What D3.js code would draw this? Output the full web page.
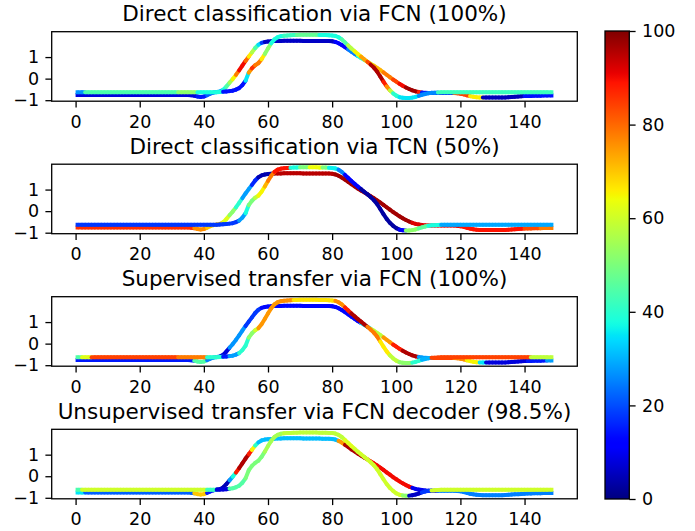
<!DOCTYPE html>
<html>
<head>
<meta charset="utf-8">
<script src="https://cdn.jsdelivr.net/npm/d3@7"></script>
<style>
  html, body { margin: 0; padding: 0; background: #ffffff; }
  svg { display: block; }
  text { font-family: "DejaVu Sans", sans-serif; fill: #000; }
</style>
</head>
<body>
<svg id="chart" width="695" height="531"></svg>
<script>
// ---------------- DATA ----------------
const timeSteps = d3.range(150);

// series that starts low, rises first, plateaus lower, descends gradually
const seriesA = [
  -0.76,-0.76,-0.76,-0.76,-0.76,-0.76,-0.76,-0.76,-0.76,-0.76,
  -0.76,-0.76,-0.76,-0.76,-0.76,-0.76,-0.76,-0.76,-0.76,-0.76,
  -0.76,-0.76,-0.76,-0.76,-0.76,-0.76,-0.76,-0.76,-0.76,-0.76,
  -0.76,-0.76,-0.76,-0.76,-0.76,-0.76,
  -0.77,-0.79,-0.83,-0.85,-0.83,-0.77,-0.70,-0.65,-0.62,-0.60,
  -0.52,-0.37,-0.19,-0.02,0.17,0.38,0.60,0.82,1.02,1.22,1.42,1.57,1.66,
  1.70,1.72,1.73,1.74,
  1.75,1.75,1.76,1.76,1.76,1.76,1.76,1.76,1.75,1.75,1.75,1.75,1.75,1.75,1.74,1.74,1.74,
  1.73,1.70,1.64,1.56,1.46,1.36,1.25,1.15,1.05,0.96,
  0.87,0.78,0.69,0.60,0.50,0.40,0.29,0.18,0.07,-0.04,
  -0.14,-0.24,-0.33,-0.41,-0.48,-0.54,-0.59,-0.62,-0.64,-0.66,
  -0.67,-0.67,-0.67,-0.67,-0.67,-0.67,-0.67,-0.67,-0.67,-0.68,
  -0.70,-0.73,-0.77,-0.81,-0.84,-0.86,-0.87,-0.88,-0.88,-0.88,
  -0.88,-0.88,-0.88,-0.88,-0.87,-0.86,-0.85,-0.84,-0.83,-0.82,
  -0.81,-0.80,-0.80,-0.79,-0.79,-0.79,-0.78,-0.78,-0.78,-0.78
];

// series that starts higher, rises later, plateaus higher, descends steeply
const seriesB = [
  -0.63,-0.63,-0.63,-0.63,-0.63,-0.63,-0.63,-0.63,-0.63,-0.63,
  -0.63,-0.63,-0.63,-0.63,-0.63,-0.63,-0.63,-0.63,-0.63,-0.63,
  -0.63,-0.63,-0.63,-0.63,-0.63,-0.63,-0.63,-0.63,-0.63,-0.63,
  -0.63,-0.63,-0.63,-0.63,-0.63,-0.63,-0.63,-0.63,-0.63,-0.63,
  -0.63,-0.63,-0.63,-0.63,-0.63,
  -0.62,-0.61,-0.60,-0.58,
  -0.56,-0.51,-0.44,-0.30,-0.10,0.28,0.48,0.62,0.72,0.90,1.14,1.40,1.64,1.82,1.92,1.97,1.99,2.00,
  2.01,2.02,2.02,2.03,2.03,2.03,2.03,2.03,2.03,2.02,2.02,2.02,2.01,2.00,
  1.98,1.92,1.82,1.68,1.54,1.40,1.27,1.14,1.02,0.90,0.78,0.65,0.51,0.33,0.10,-0.14,
  -0.36,-0.54,-0.68,-0.79,-0.86,-0.89,-0.90,-0.90,-0.88,-0.85,-0.80,-0.75,-0.71,-0.68,
  -0.66,-0.65,-0.64,
  -0.63,-0.63,-0.63,-0.63,-0.63,-0.63,-0.63,-0.63,-0.63,-0.63,
  -0.63,-0.63,-0.63,-0.63,-0.63,-0.63,-0.63,-0.63,-0.63,-0.63,
  -0.63,-0.63,-0.63,-0.63,-0.63,-0.63,-0.63,-0.63,-0.63,-0.63,
  -0.63,-0.63,-0.63,-0.63,-0.63,-0.63
];

const panelTitles = [
  "Direct classification via FCN (100%)",
  "Direct classification via TCN (50%)",
  "Supervised transfer via FCN (100%)",
  "Unsupervised transfer via FCN decoder (98.5%)"
];

// colour values (0-100) along each series: [fromIndex, toIndex, value]
const colorA_directFCN = [[0,37,8],[38,40,15],[41,43,22],[44,45,30],[46,46,38],[47,47,45],[48,48,55],[49,49,65],[50,50,78],[51,52,90],[53,53,80],[54,54,66],[55,55,56],[56,56,44],[57,57,34],[58,58,18],[59,80,6],[81,84,12],[85,87,25],[88,89,38],[90,90,50],[91,92,62],[93,95,72],[96,98,78],[99,100,84],[101,102,90],[103,106,97],[107,107,88],[108,117,15],[118,122,84],[123,126,66],[127,139,5],[140,149,14]];
const colorB_directFCN = [[0,2,27],[3,31,44],[32,37,52],[38,45,38],[46,52,14],[53,53,35],[54,54,75],[55,55,86],[56,57,78],[58,58,66],[59,60,52],[61,64,38],[65,68,42],[69,75,47],[76,82,38],[83,84,45],[85,86,57],[87,88,65],[89,90,74],[91,91,84],[92,95,96],[96,96,88],[97,97,76],[98,98,58],[99,100,40],[101,106,35],[107,112,26],[113,149,42]];

const colorA_directTCN = [[0,36,86],[37,40,76],[41,45,70],[46,47,62],[48,49,52],[50,51,40],[52,54,28],[55,56,16],[57,61,4],[62,80,95],[81,104,97],[105,119,92],[120,139,89],[140,144,83],[145,149,78]];
const colorB_directTCN = [[0,50,18],[51,52,28],[53,53,38],[54,55,50],[56,56,58],[57,58,65],[59,59,72],[60,61,78],[62,66,89],[67,69,38],[70,72,50],[73,76,64],[77,78,50],[79,81,36],[82,83,25],[84,88,12],[89,100,3],[101,102,12],[103,106,52],[107,109,46],[110,113,38],[114,149,29]];

const colorA_supervised = [[0,36,15],[37,40,45],[41,44,25],[45,47,8],[48,52,27],[53,57,18],[58,88,13],[89,91,35],[92,95,58],[96,98,75],[99,101,88],[102,106,96],[107,110,28],[111,117,84],[118,121,76],[122,125,65],[126,127,35],[128,140,8],[141,146,15],[147,149,28]];
const colorB_supervised = [[0,1,45],[2,4,62],[5,31,84],[32,40,78],[41,45,40],[46,47,15],[48,50,28],[51,53,40],[54,55,52],[56,56,60],[57,63,75],[64,67,76],[68,80,67],[81,83,76],[84,85,88],[86,90,96],[91,94,78],[95,97,66],[98,100,58],[101,104,52],[105,107,40],[108,110,30],[111,141,84],[142,149,58]];

const colorA_unsupervised = [[0,2,35],[3,36,22],[37,40,70],[41,43,15],[44,47,5],[48,48,28],[49,49,38],[50,50,88],[51,53,96],[54,54,88],[55,55,65],[56,56,40],[57,81,31],[82,83,75],[84,90,96],[91,104,90],[105,112,10],[113,149,25]];
const colorB_unsupervised = [[0,1,44],[2,40,60],[41,43,42],[44,47,8],[48,52,45],[53,58,50],[59,64,55],[65,83,58],[84,86,62],[87,101,60],[102,103,52],[104,107,6],[108,110,18],[111,149,60]];

const xTickValues = [0, 20, 40, 60, 80, 100, 120, 140];
const yTickValues = [-1, 0, 1];
const yTickLabels = ["\u22121", "0", "1"];
const colorTickValues = [0, 20, 40, 60, 80, 100];
const colorDomain = [0, 100];

// ---------------- STYLE / LAYOUT ----------------
const axLeft = 51.7, axRight = 577.3, axH = 69.5;
const axTops = [31.7, 164.2, 296.7, 429.3];
const cbLeft = 605, cbRight = 629.3, cbTop = 31, cbBottom = 499;
const tickFont = 17.5, titleFont = 21.5, lineW = 4, tickLen = 6.3, spineW = 1.3;

// jet colormap (matplotlib segment data)
const jetR = d3.scaleLinear().domain([0, 0.35, 0.66, 0.89, 1]).range([0, 0, 1, 1, 0.5]).clamp(true);
const jetG = d3.scaleLinear().domain([0, 0.125, 0.375, 0.64, 0.91, 1]).range([0, 0, 1, 1, 0, 0]).clamp(true);
const jetB = d3.scaleLinear().domain([0, 0.11, 0.34, 0.65, 1]).range([0.5, 1, 1, 0, 0]).clamp(true);
const norm = d3.scaleLinear().domain(colorDomain).range([0, 1]).clamp(true);
const jet = v => { const t = norm(v); return d3.rgb(255 * jetR(t), 255 * jetG(t), 255 * jetB(t)).formatHex(); };

function expandRuns(runs) {
  const out = new Array(timeSteps.length).fill(0);
  runs.forEach(([a, b, v]) => { for (let i = a; i <= b; i++) out[i] = v; });
  return out;
}

const panelColors = [
  [colorA_directFCN, colorB_directFCN],
  [colorA_directTCN, colorB_directTCN],
  [colorA_supervised, colorB_supervised],
  [colorA_unsupervised, colorB_unsupervised]
];

const svg = d3.select("#chart");
svg.append("rect").attr("width", 695).attr("height", 531).attr("fill", "#fff");

const x = d3.scaleLinear()
  .domain([0 - 0.05 * 149, 149 + 0.05 * 149])
  .range([axLeft, axRight]);

const allY = seriesA.concat(seriesB);
const yMin = d3.min(allY), yMax = d3.max(allY), yPad = 0.05 * (yMax - yMin);

panelTitles.forEach((title, k) => {
  const top = axTops[k];
  const y = d3.scaleLinear().domain([yMin - yPad, yMax + yPad]).range([top + axH, top]);
  const g = svg.append("g");

  const clipId = "clip" + k;
  svg.append("clipPath").attr("id", clipId)
    .append("rect").attr("x", axLeft).attr("y", top).attr("width", axRight - axLeft).attr("height", axH);

  const lines = g.append("g").attr("clip-path", `url(#${clipId})`);
  [[seriesA, panelColors[k][0]], [seriesB, panelColors[k][1]]].forEach(([vals, runs]) => {
    const cols = expandRuns(runs);
    const segs = d3.range(vals.length - 1).map(i => ({ i, x1: x(timeSteps[i]), y1: y(vals[i]), x2: x(timeSteps[i + 1]), y2: y(vals[i + 1]), c: jet(cols[i]) }));
    lines.selectAll(null).data(segs).enter().append("line")
      .attr("x1", d => d.x1).attr("y1", d => d.y1)
      .attr("x2", d => d.x2).attr("y2", d => d.y2)
      .attr("stroke", d => d.c)
      .attr("stroke-width", lineW)
      .attr("stroke-linecap", d => (d.i === 0 || d.i === vals.length - 2) ? "butt" : "round");
  });

  // frame
  g.append("rect").attr("x", axLeft).attr("y", top).attr("width", axRight - axLeft).attr("height", axH)
    .attr("fill", "none").attr("stroke", "#000").attr("stroke-width", spineW);

  // x axis
  const xa = g.append("g").attr("transform", `translate(0,${top + axH})`)
    .call(d3.axisBottom(x).tickValues(xTickValues).tickSize(tickLen).tickPadding(7.9).tickFormat(d3.format("d")));
  // y axis
  const ya = g.append("g").attr("transform", `translate(${axLeft},0)`)
    .call(d3.axisLeft(y).tickValues(yTickValues).tickSize(tickLen).tickPadding(6.3).tickFormat((d, i) => yTickLabels[i]));
  [xa, ya].forEach(a => {
    a.select(".domain").remove();
    a.selectAll(".tick line").attr("stroke", "#000").attr("stroke-width", spineW);
    a.selectAll(".tick text").attr("font-size", tickFont).attr("font-family", "DejaVu Sans").attr("fill", "#000");
  });

  g.append("text").attr("x", (axLeft + axRight) / 2).attr("y", top - 10.5)
    .attr("text-anchor", "middle").attr("font-size", titleFont).text(title);
});

// colorbar
const defs = svg.append("defs");
const grad = defs.append("linearGradient").attr("id", "jetGrad")
  .attr("x1", 0).attr("y1", 1).attr("x2", 0).attr("y2", 0);
d3.range(0, 101).forEach(v => grad.append("stop").attr("offset", v / 100).attr("stop-color", jet(v)));

svg.append("rect").attr("x", cbLeft).attr("y", cbTop).attr("width", cbRight - cbLeft).attr("height", cbBottom - cbTop)
  .attr("fill", "url(#jetGrad)").attr("stroke", "#000").attr("stroke-width", spineW);

const cScale = d3.scaleLinear().domain(colorDomain).range([cbBottom, cbTop]);
const ca = svg.append("g").attr("transform", `translate(${cbRight},0)`)
  .call(d3.axisRight(cScale).tickValues(colorTickValues).tickSize(tickLen).tickPadding(6.5).tickFormat(d3.format("d")));
ca.select(".domain").remove();
ca.selectAll(".tick line").attr("stroke", "#000").attr("stroke-width", spineW);
ca.selectAll(".tick text").attr("font-size", tickFont).attr("font-family", "DejaVu Sans").attr("fill", "#000");
</script>
</body>
</html>
